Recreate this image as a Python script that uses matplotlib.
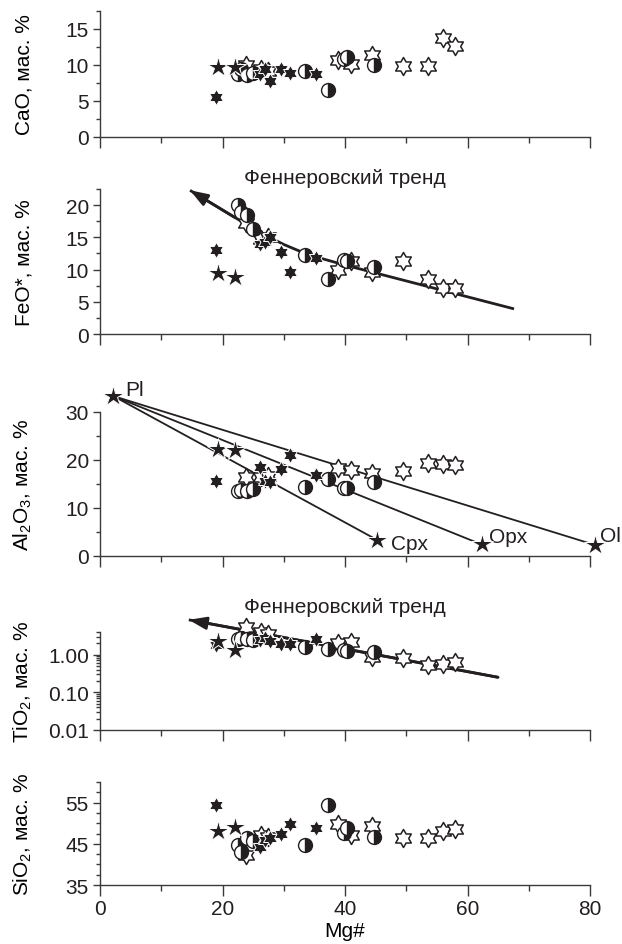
import numpy as np
import matplotlib.pyplot as plt
from matplotlib.path import Path
from matplotlib.ticker import (MultipleLocator, FixedLocator, LogLocator,
                               FormatStrFormatter, NullFormatter)

plt.rcParams["font.family"] = ["Liberation Sans", "DejaVu Sans"]
plt.rcParams["mathtext.default"] = "regular"
plt.rcParams["font.size"] = 15

INK = "#231f20"
SPINE = "#3a3a3a"

# --- filled 5-pointed stars
star_mg = [19.3, 22.0]
star_cao = [9.7, 9.7]
star_feo = [9.5, 8.8]
star_al = [22.3, 22.1]
star_ti = [2.3, 1.3]
star_si = [48.2, 49.1]

# --- filled hexagrams
hexf_mg = [19.0, 26.2, 26.9, 27.7, 29.6, 31.1, 35.2]
hexf_cao = [5.5, 8.7, 9.5, 7.8, 9.5, 8.9, 8.8]
hexf_feo = [13.0, 14.0, 14.3, 15.0, 12.8, 9.6, 11.8]
hexf_al = [15.7, 18.6, 15.6, 15.4, 18.2, 21.0, 16.9]
hexf_ti = [1.75, 2.5, 2.7, 2.3, 1.9, 1.9, 2.6]
hexf_si = [54.4, 44.2, 46.0, 46.3, 47.4, 49.7, 48.9]

# --- half-filled circles
hc_mg = [22.5, 23.0, 24.0, 25.0, 33.5, 37.3, 39.8, 40.3, 44.8]
hc_cao = [8.8, 9.4, 8.6, 8.9, 9.2, 6.5, 10.8, 11.1, 10.0]
hc_feo = [20.1, 18.9, 18.5, 16.3, 12.2, 8.5, 11.5, 11.3, 10.4]
hc_al = [13.6, 13.8, 13.6, 13.9, 14.3, 16.1, 14.1, 14.2, 15.4]
hc_ti = [2.6, 2.8, 2.6, 2.4, 1.6, 1.4, 1.3, 1.25, 1.15]
hc_si = [44.6, 43.1, 46.3, 45.7, 44.8, 54.5, 47.6, 48.8, 46.6]

# --- open hexagrams
hexo_mg = [23.8, 26.3, 27.4, 38.9, 41.0, 44.4, 49.5, 53.6, 56.0, 58.0]
hexo_cao = [10.0, 9.4, 9.2, 10.7, 10.2, 11.4, 9.8, 9.8, 13.8, 12.7]
hexo_feo = [17.2, 14.7, 15.1, 10.0, 11.3, 9.6, 11.4, 8.5, 7.1, 7.1]
hexo_al = [16.4, 16.4, 16.6, 18.4, 17.9, 17.2, 17.6, 19.3, 19.2, 18.9]
hexo_ti = [5.5, 4.0, 3.5, 2.1, 2.2, 0.85, 0.8, 0.53, 0.57, 0.62]
hexo_si = [42.2, 47.1, 46.6, 49.8, 47.2, 49.4, 46.3, 46.4, 48.0, 48.6]

# --- mineral end members (Al2O3 panel)
min_names = ["Pl", "Cpx", "Opx", "Ol"]
min_mg = [2.2, 45.3, 62.3, 80.8]
min_al = [33.3, 3.3, 2.4, 2.3]

# --- Fenner trends
trend_feo_mg = [14.7, 22.0, 26.0, 30.0, 34.0, 40.0, 67.6]
trend_feo = [22.3, 18.1, 15.8, 13.9, 12.3, 10.7, 3.9]
trend_ti_mg = [14.5, 65.0]
trend_ti = [8.4, 0.25]

TREND_LABEL = "Феннеровский тренд"


def hexagram():
    verts = []
    r_in = 1 / np.sqrt(3)
    for k in range(6):
        a = np.deg2rad(90 + 60 * k)
        b = np.deg2rad(120 + 60 * k)
        verts.append((np.cos(a), np.sin(a)))
        verts.append((r_in * np.cos(b), r_in * np.sin(b)))
    verts.append(verts[0])
    return Path(verts, closed=True)


HEX = hexagram()


def draw_samples(ax, star_y, hexf_y, hc_y, hexo_y):
    ax.plot(hexo_mg, hexo_y, ls="none", marker=HEX, ms=13, mfc="white",
            mec=INK, mew=1.1, clip_on=False, zorder=3)
    ax.plot(hc_mg, hc_y, ls="none", marker="o", ms=10, fillstyle="right",
            mfc=INK, markerfacecoloralt="white", mec=INK, mew=1.0,
            clip_on=False, zorder=4)
    ax.plot(hexf_mg, hexf_y, ls="none", marker=HEX, ms=11.5, mfc=INK,
            mec="white", mew=0.7, clip_on=False, zorder=5)
    ax.plot(star_mg, star_y, ls="none", marker="*", ms=16, mfc=INK,
            mec="white", mew=0.7, clip_on=False, zorder=6)


def style_axis(ax, show_x=False):
    for side in ["top", "right"]:
        ax.spines[side].set_visible(False)
    for side in ["left", "bottom"]:
        ax.spines[side].set_color(SPINE)
        ax.spines[side].set_linewidth(1.0)

    ax.set_xlim(0, 80)
    ax.xaxis.set_major_locator(MultipleLocator(20))
    ax.xaxis.set_minor_locator(MultipleLocator(10))
    ax.tick_params(axis="both", which="both", color=SPINE, width=1.0,
                   labelcolor=INK, direction="out")
    ax.tick_params(axis="x", which="major", length=8, pad=2,
                   labelbottom=show_x)
    ax.tick_params(axis="x", which="minor", length=4.5)
    ax.tick_params(axis="y", which="major", length=5, pad=3)
    ax.tick_params(axis="y", which="minor", length=3)
    ax.yaxis.set_label_coords(-0.135, 0.5)


def trend_arrow(ax, xs, ys):
    ax.plot(xs, ys, color=INK, lw=2.0, solid_capstyle="butt", zorder=2,
            clip_on=False)
    ax.annotate("", xy=(xs[0], ys[0]), xytext=(xs[1], ys[1]),
                arrowprops=dict(arrowstyle="-|>,head_length=0.7,head_width=0.25",
                                color=INK, lw=2.0, shrinkA=0, shrinkB=0),
                annotation_clip=False, zorder=2)


def main():
    fig = plt.figure(figsize=(6.22, 9.45), dpi=100)
    fig.patch.set_facecolor("white")

    left, width = 100 / 622, 490 / 622
    ax_ca = fig.add_axes([left, 0.8540, width, 0.1333])
    ax_fe = fig.add_axes([left, 0.6455, width, 0.1534])
    ax_al = fig.add_axes([left, 0.4106, width, 0.1524])
    ax_ti = fig.add_axes([left, 0.2265, width, 0.1037])
    ax_si = fig.add_axes([left, 0.0624, width, 0.1090])

    # --- CaO
    ax = ax_ca
    style_axis(ax)
    draw_samples(ax, star_cao, hexf_cao, hc_cao, hexo_cao)
    ax.set_ylim(0, 17.5)
    ax.yaxis.set_major_locator(MultipleLocator(5))
    ax.yaxis.set_minor_locator(MultipleLocator(2.5))
    ax.set_ylabel("CaO, мас. %")

    # --- FeO*
    ax = ax_fe
    style_axis(ax)
    trend_arrow(ax, trend_feo_mg, trend_feo)
    draw_samples(ax, star_feo, hexf_feo, hc_feo, hexo_feo)
    ax.set_ylim(0, 22.5)
    ax.yaxis.set_major_locator(MultipleLocator(5))
    ax.yaxis.set_minor_locator(MultipleLocator(2.5))
    ax.set_ylabel("FeO*, мас. %")
    ax.text(0.5, 1.083, TREND_LABEL, transform=ax.transAxes,
            ha="center", va="center", color=INK)

    # --- Al2O3
    ax = ax_al
    style_axis(ax)
    for mg, al in zip(min_mg[1:], min_al[1:]):
        ax.plot([min_mg[0], mg], [min_al[0], al], color=INK, lw=1.3,
                clip_on=False, zorder=2)
    draw_samples(ax, star_al, hexf_al, hc_al, hexo_al)
    ax.plot(min_mg, min_al, ls="none", marker="*", ms=16, mfc=INK,
            mec="white", mew=0.7, clip_on=False, zorder=6)
    offsets = [(2.0, 1.4), (2.2, -0.6), (1.2, 1.6), (0.8, 2.0)]
    for name, mg, al, (dx, dy) in zip(min_names, min_mg, min_al, offsets):
        ax.text(mg + dx, al + dy, name, ha="left", va="center", color=INK)
    ax.set_ylim(0, 30)
    ax.yaxis.set_major_locator(MultipleLocator(10))
    ax.yaxis.set_minor_locator(MultipleLocator(5))
    ax.set_ylabel("Al$_2$O$_3$, мас. %")

    # --- TiO2 (log)
    ax = ax_ti
    style_axis(ax)
    ax.set_yscale("log")
    trend_arrow(ax, trend_ti_mg, trend_ti)
    draw_samples(ax, star_ti, hexf_ti, hc_ti, hexo_ti)
    ax.set_ylim(0.01, 4)
    ax.yaxis.set_major_locator(FixedLocator([0.01, 0.1, 1.0]))
    ax.yaxis.set_major_formatter(FormatStrFormatter("%.2f"))
    ax.yaxis.set_minor_locator(LogLocator(base=10, subs=np.arange(2, 10)))
    ax.yaxis.set_minor_formatter(NullFormatter())
    ax.set_ylabel("TiO$_2$, мас. %")
    ax.text(0.5, 1.255, TREND_LABEL, transform=ax.transAxes,
            ha="center", va="center", color=INK)

    # --- SiO2
    ax = ax_si
    style_axis(ax, show_x=True)
    draw_samples(ax, star_si, hexf_si, hc_si, hexo_si)
    ax.set_ylim(35, 60)
    ax.yaxis.set_major_locator(FixedLocator([35, 45, 55]))
    ax.yaxis.set_minor_locator(MultipleLocator(2.5))
    ax.set_ylabel("SiO$_2$, мас. %")
    ax.set_xlabel("Mg#", labelpad=2)

    fig.savefig("out.png", dpi=100, facecolor="white")
    plt.close(fig)


if __name__ == "__main__":
    main()
